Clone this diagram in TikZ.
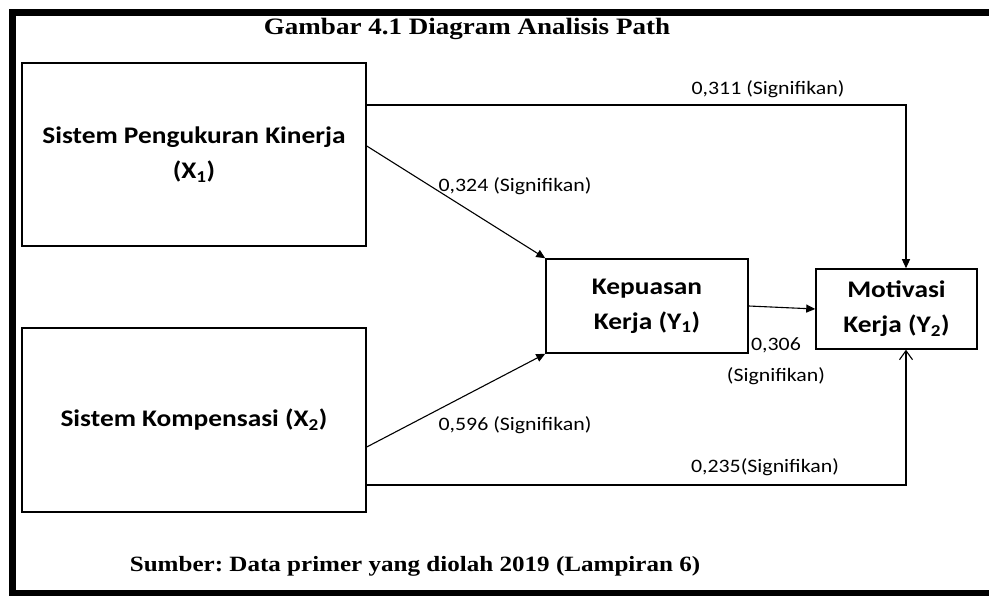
\documentclass[tikz,border=0pt]{standalone}
\usepackage{fontspec}
\setmainfont{Carlito}[FakeStretch=1.15]
\newfontfamily\judulfont{Liberation Serif}[FakeStretch=1.15]
\usetikzlibrary{arrows.meta}
\frenchspacing

\begin{document}
\begin{tikzpicture}[x=1pt,y=-1pt,
	varbox/.style={draw, line width=1.5pt, align=center, inner sep=0pt,
		font=\bfseries\fontsize{23.8}{35}\selectfont},
	lbl/.style={inner sep=0pt, align=center, font=\fontsize{19}{31}\selectfont},
	judul/.style={inner sep=0pt, font=\judulfont\bfseries\fontsize{23.5}{28}\selectfont},
	jalur/.style={line width=1.1pt, -{Triangle[length=9pt,width=8pt]}},
	jalurbuka/.style={line width=1.1pt, -{Straight Barb[length=9pt,width=13pt]}}]
		\useasboundingbox (0,0) rectangle (989,596);
		% bingkai
		\draw[line width=7pt, line join=miter] (989,12.5) -- (12,12.5) -- (12,593) -- (989,593);
		\node[judul] (judul) at (467,29) {Gambar 4.1 Diagram Analisis Path};
		\node[judul, font=\judulfont\bfseries\fontsize{21.8}{26}\selectfont] (sumber) at (415,566) {Sumber: Data primer yang diolah 2019 (Lampiran 6)};

		\node[varbox, minimum width=344, minimum height=183] (x1) at (194,154.5) {Sistem Pengukuran Kinerja\\(X\textsubscript{1})};
		\node[varbox, minimum width=344, minimum height=184] (x2) at (194,420) {Sistem Kompensasi (X\textsubscript{2})};
		\node[varbox, minimum width=202, minimum height=94] (y1) at (647,306) {Kepuasan\\Kerja (Y\textsubscript{1})};
		\node[varbox, minimum width=161, minimum height=80] (y2) at (896.5,309) {Motivasi\\Kerja (Y\textsubscript{2})};

		\draw[jalur] ([yshift=49.5pt]x1.east) -| ([xshift=9.5pt]y2.north);
		\draw[jalur] ([yshift=8.5pt]x1.east) -- (y1.north west);
		\draw[jalur] ([yshift=-27pt]x2.east) -- (y1.south west);
		\draw[jalurbuka] ([yshift=-65pt]x2.east) -| ([xshift=9.5pt]y2.south);
		\draw[jalur] (y1.east) -- (y2.west);

		\node[lbl] (p311) at (768,89) {0,311 (Signifikan)};
		\node[lbl] (p324) at (515,186) {0,324 (Signifikan)};
		\node[lbl] (p596) at (515,425) {0,596 (Signifikan)};
		\node[lbl] (p235) at (765,467) {0,235(Signifikan)};
		\node[lbl] (p306) at (776,361) {0,306\\(Signifikan)};
	\end{tikzpicture}
\end{document}
